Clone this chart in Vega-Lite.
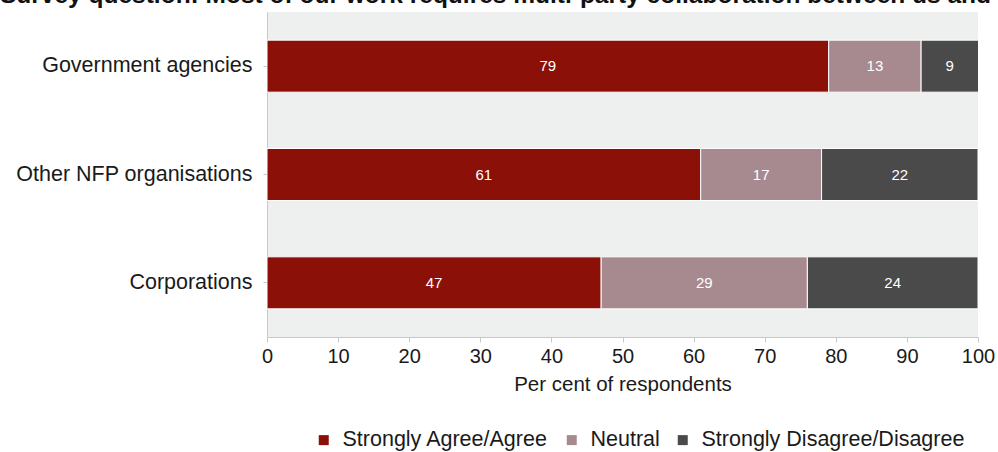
{
  "$schema": "https://vega.github.io/schema/vega-lite/v6.json",
  "width": 711,
  "height": 325,
  "autosize": {"type": "none"},
  "padding": {"left": 267, "top": 12, "right": 20, "bottom": 115},
  "background": "white",
  "title": {
    "text": "Survey question: Most of our work requires multi-party collaboration between us and",
    "anchor": "start",
    "frame": "group",
    "dx": -267,
    "dy": 15,
    "fontSize": 24.5,
    "fontWeight": "bold",
    "font": "Liberation Sans",
    "color": "#111111",
    "baseline": "alphabetic",
    "offset": 0
  },
  "config": {
    "font": "Liberation Sans",
    "view": {"fill": "#eeefef", "stroke": null}
  },
  "data": {
    "values": [
      {"org": "Government agencies", "response": "Strongly Agree/Agree", "rank": 1, "value": 79},
      {"org": "Government agencies", "response": "Neutral", "rank": 2, "value": 13},
      {"org": "Government agencies", "response": "Strongly Disagree/Disagree", "rank": 3, "value": 9},
      {"org": "Other NFP organisations", "response": "Strongly Agree/Agree", "rank": 1, "value": 61},
      {"org": "Other NFP organisations", "response": "Neutral", "rank": 2, "value": 17},
      {"org": "Other NFP organisations", "response": "Strongly Disagree/Disagree", "rank": 3, "value": 22},
      {"org": "Corporations", "response": "Strongly Agree/Agree", "rank": 1, "value": 47},
      {"org": "Corporations", "response": "Neutral", "rank": 2, "value": 29},
      {"org": "Corporations", "response": "Strongly Disagree/Disagree", "rank": 3, "value": 24}
    ]
  },
  "transform": [
    {"stack": "value", "groupby": ["org"], "sort": [{"field": "rank", "order": "ascending"}], "as": ["x0", "x1"]},
    {"calculate": "(datum.x0 + min(datum.x1, 100)) / 2", "as": "xmid"}
  ],
  "encoding": {
    "y": {
      "field": "org",
      "type": "nominal",
      "sort": ["Government agencies", "Other NFP organisations", "Corporations"],
      "scale": {"paddingInner": 0.52, "paddingOuter": 0.26},
      "axis": {
        "title": null,
        "labelFontSize": 21.5,
        "labelColor": "#1a1a1a",
        "labelPadding": 11,
        "labelLimit": 300,
        "domainColor": "#c8c8c8",
        "tickColor": "#c8c8c8",
        "tickSize": 4
      }
    }
  },
  "layer": [
    {
      "mark": {"type": "bar", "clip": true, "stroke": "white", "strokeWidth": 1},
      "encoding": {
        "x": {
          "field": "x0",
          "type": "quantitative",
          "scale": {"domain": [0, 100], "nice": false},
          "axis": {
            "title": "Per cent of respondents",
            "values": [0, 10, 20, 30, 40, 50, 60, 70, 80, 90, 100],
            "grid": false,
            "labelFlush": false,
            "labelFontSize": 20,
            "labelColor": "#1a1a1a",
            "titleFontSize": 20.5,
            "titleFontWeight": "normal",
            "titleColor": "#1a1a1a",
            "titlePadding": 8,
            "domainColor": "#c8c8c8",
            "tickColor": "#c8c8c8",
            "tickSize": 5,
            "labelPadding": 4
          }
        },
        "x2": {"field": "x1"},
        "color": {
          "field": "response",
          "type": "nominal",
          "scale": {
            "domain": ["Strongly Agree/Agree", "Neutral", "Strongly Disagree/Disagree"],
            "range": ["#8b1007", "#a68a90", "#4a4a4a"]
          },
          "legend": {
            "title": null,
            "orient": "none",
            "legendX": 46,
            "legendY": 417,
            "direction": "horizontal",
            "symbolType": "square",
            "symbolSize": 100,
            "symbolStrokeWidth": 0,
            "labelFontSize": 21.5,
            "labelLimit": 400,
            "labelColor": "#1a1a1a",
            "labelOffset": 8,
            "columnPadding": 12
          }
        }
      }
    },
    {
      "mark": {"type": "text", "color": "white", "fontSize": 15},
      "encoding": {
        "x": {"field": "xmid", "type": "quantitative"},
        "text": {"field": "value", "type": "quantitative"}
      }
    }
  ]
}
